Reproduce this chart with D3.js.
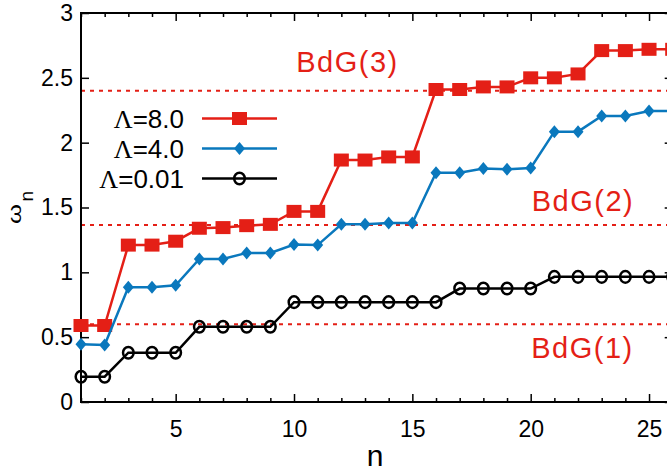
<!DOCTYPE html>
<html><head><meta charset="utf-8">
<script src="https://cdn.jsdelivr.net/npm/d3@7"></script>
<style>body{margin:0;background:#fff}svg{display:block}</style>
</head><body>
<script>
const nValues = d3.range(1, 27);
const lambda8 = [0.59,0.59,1.21,1.21,1.24,1.34,1.345,1.36,1.37,1.47,1.47,1.866,1.866,1.89,1.89,2.41,2.41,2.43,2.43,2.50,2.50,2.53,2.71,2.71,2.72,2.72];
const lambda4 = [0.445,0.44,0.885,0.885,0.90,1.103,1.103,1.15,1.15,1.215,1.21,1.37,1.37,1.38,1.38,1.768,1.768,1.80,1.795,1.805,2.085,2.085,2.206,2.206,2.244,2.245];
const lambda001 = [0.195,0.195,0.38,0.38,0.38,0.58,0.58,0.58,0.58,0.77,0.77,0.77,0.77,0.77,0.77,0.77,0.875,0.875,0.875,0.875,0.965,0.965,0.965,0.965,0.965,0.965];
const bdgLevels = [0.6, 1.365, 2.40];
const bdgLabels = ["BdG(1)", "BdG(2)", "BdG(3)"];
const yTicks = [0, 0.5, 1, 1.5, 2, 2.5, 3];
const xMajorTicks = [5, 10, 15, 20, 25];
const legendLabels = ["8.0", "4.0", "0.01"];

const RED = "#e41f16", BLUE = "#0a78bd", BLACK = "#000";
const W = 667, H = 473;
const svg = d3.select("body").append("svg").attr("width", W).attr("height", H);
const x = d3.scaleLinear().domain([1, 26]).range([81, 672.7]);
const y = d3.scaleLinear().domain([0, 3]).range([402, 13]);
const FONT = "'Liberation Sans', Arial, Helvetica, sans-serif";

// BdG dashed lines
svg.append("g").selectAll("line").data(bdgLevels).join("line")
  .attr("x1", x(1)).attr("x2", x(26)).attr("y1", d => y(d)).attr("y2", d => y(d))
  .attr("stroke", RED).attr("stroke-width", 2).attr("stroke-dasharray", "4,5");

// axes
function styleAxis(g) {
  g.select(".domain").remove();
  g.selectAll(".tick line").attr("stroke", "#000").attr("stroke-width", 1.5);
  g.selectAll(".tick text").attr("font-family", FONT).attr("font-size", 23).attr("fill", "#000");
}
const minor = nValues.filter(n => n % 5 !== 0);
svg.append("g").attr("transform", "translate(0,402)")
  .call(d3.axisBottom(x).tickValues(xMajorTicks).tickSize(-8).tickSizeOuter(0).tickPadding(19).tickFormat(d3.format("d")))
  .call(styleAxis);
svg.append("g").attr("transform", "translate(0,402)")
  .call(d3.axisBottom(x).tickValues(minor).tickSize(-4).tickSizeOuter(0).tickFormat(""))
  .call(styleAxis);
svg.append("g").attr("transform", "translate(0,13)")
  .call(d3.axisTop(x).tickValues(xMajorTicks).tickSize(-8).tickSizeOuter(0).tickFormat(""))
  .call(styleAxis);
svg.append("g").attr("transform", "translate(0,13)")
  .call(d3.axisTop(x).tickValues(minor).tickSize(-4).tickSizeOuter(0).tickFormat(""))
  .call(styleAxis);
svg.append("g").attr("transform", "translate(81,0)")
  .call(d3.axisLeft(y).tickValues(yTicks).tickSize(-8).tickSizeOuter(0).tickPadding(8).tickFormat(d => String(d)))
  .call(styleAxis);
svg.append("g").attr("transform", "translate(" + x(26) + ",0)")
  .call(d3.axisRight(y).tickValues(yTicks).tickSize(-8).tickSizeOuter(0).tickFormat(""))
  .call(styleAxis);
// frame
svg.append("rect").attr("x", x(1)).attr("y", y(3)).attr("width", x(26) - x(1)).attr("height", y(0) - y(3))
  .attr("fill", "none").attr("stroke", "#000").attr("stroke-width", 2);

// series
const line = d3.line().x((d, i) => x(nValues[i])).y(d => y(d));
function square(g, cx, cy) {
  g.append("rect").attr("x", cx - 7.5).attr("y", cy - 6.5).attr("width", 15).attr("height", 13).attr("fill", RED);
}
function diamond(g, cx, cy) {
  g.append("path").attr("d", `M${cx},${cy - 6.5}L${cx + 5.5},${cy}L${cx},${cy + 6.5}L${cx - 5.5},${cy}Z`).attr("fill", BLUE);
}
function circle(g, cx, cy) {
  g.append("ellipse").attr("cx", cx).attr("cy", cy).attr("rx", 5.3).attr("ry", 5.8)
    .attr("fill", "none").attr("stroke", BLACK).attr("stroke-width", 2.5);
}
const series = [
  {vals: lambda8, color: RED, mark: square},
  {vals: lambda4, color: BLUE, mark: diamond},
  {vals: lambda001, color: BLACK, mark: circle}
];
series.forEach(s => {
  const g = svg.append("g");
  g.append("path").attr("d", line(s.vals)).attr("fill", "none").attr("stroke", s.color).attr("stroke-width", 2.5);
  s.vals.forEach((v, i) => s.mark(g, x(nValues[i]), y(v)));
});

// legend
const legY = [118.5, 148.5, 178.5];
series.forEach((s, i) => {
  const g = svg.append("g");
  g.append("line").attr("x1", 202).attr("x2", 277).attr("y1", legY[i]).attr("y2", legY[i])
    .attr("stroke", s.color).attr("stroke-width", 2.5);
  s.mark(g, 239.5, legY[i]);
  const t = g.append("text").attr("x", 184).attr("y", legY[i] + 9).attr("text-anchor", "end")
    .attr("font-family", FONT).attr("font-size", 26).attr("fill", "#000");
  t.append("tspan").attr("font-family", "'Liberation Serif', 'Times New Roman', serif").text("Λ");
  t.append("tspan").text("=" + legendLabels[i]);
});

// BdG labels
const bdgPos = [[582.5, 358], [583, 211], [347.5, 72]];
svg.append("g").selectAll("text").data(bdgLabels).join("text")
  .attr("x", (d, i) => bdgPos[i][0]).attr("y", (d, i) => bdgPos[i][1])
  .attr("text-anchor", "middle").attr("font-family", FONT).attr("font-size", 29)
  .attr("letter-spacing", 1.5).attr("fill", RED).text(d => d);

// axis titles
svg.append("text").attr("x", 375).attr("y", 466).attr("text-anchor", "middle")
  .attr("font-family", FONT).attr("font-size", 30).attr("fill", "#000").text("n");
svg.append("g").attr("transform", "translate(21,224) rotate(-90) scale(1.35,1)")
  .append("text").attr("x", 0).attr("y", 0).attr("font-family", FONT).attr("font-size", 19)
  .attr("fill", "#000").text("ω");
svg.append("g").attr("transform", "translate(33,201.5) rotate(-90)")
  .append("text").attr("x", 0).attr("y", 0).attr("font-family", FONT).attr("font-size", 19)
  .attr("fill", "#000").text("n");
</script>
</body></html>
